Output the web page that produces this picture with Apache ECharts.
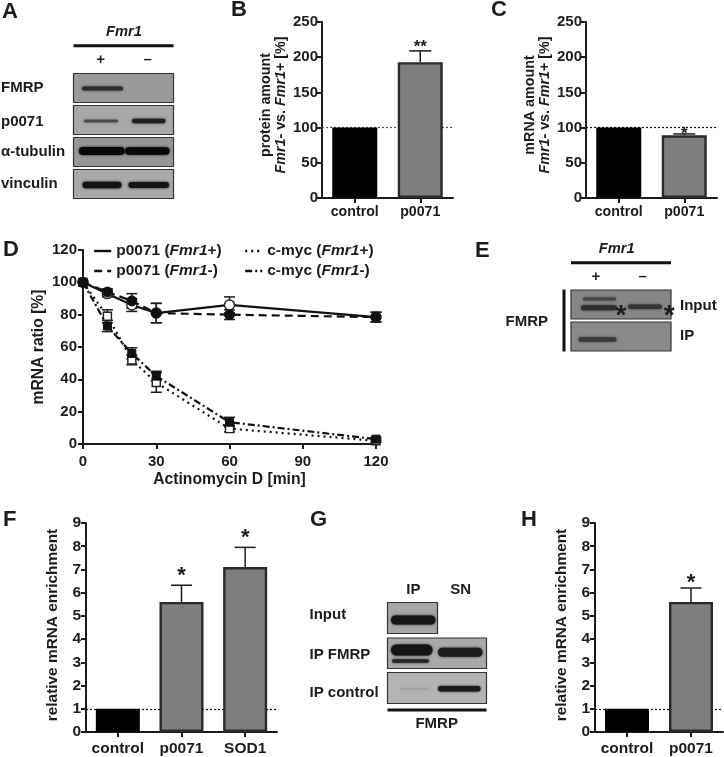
<!DOCTYPE html>
<html><head><meta charset="utf-8">
<style>html,body{margin:0;padding:0;background:#fff}#c{width:724px;height:757px}</style>
<script src="https://cdn.jsdelivr.net/npm/echarts@6/dist/echarts.min.js"></script>
</head><body><div id="c"></div>
<script>
// ---- data ----
const catsBC = ['control', 'p0071'];
const catsF = ['control', 'p0071', 'SOD1'];
const catsH = ['control', 'p0071'];
const proteinVals = [100, 193];
const proteinErr = [0, 16];
const proteinStars = ['', '**'];
const mrnaVals = [100, 89];
const mrnaErr = [0, 2];
const mrnaStars = ['', '*'];
const enrichFVals = [1, 5.6, 7.1];
const enrichFErr = [0, 0.72, 0.85];
const enrichFStars = ['', '*', '*'];
const enrichHVals = [1, 5.6];
const enrichHErr = [0, 0.6];
const enrichHStars = ['', '*'];
const timeMin = [0, 10, 20, 30, 60, 120];
const p0071Plus = [100, 93, 86, 81, 86, 78.5];
const p0071PlusErr = [0, 2, 4, 6, 5, 3];
const p0071Minus = [100, 94, 88.5, 81, 80, 78.5];
const p0071MinusErr = [0, 2, 4.5, 6, 3, 3];
const cmycPlus = [100, 79, 52, 38, 9.5, 2];
const cmycPlusErr = [0, 4, 3, 6, 2, 1];
const cmycMinus = [100, 73, 56, 42, 13.5, 3];
const cmycMinusErr = [0, 3.5, 3.5, 3, 3, 1];
const nameP = 'p0071 (Fmr1+)', nameQ = 'p0071 (Fmr1-)', nameR = 'c-myc (Fmr1+)', nameS = 'c-myc (Fmr1-)';

// ---- style helpers ----
const FF = '"Liberation Sans", Arial, sans-serif';
const INK = '#1c1c1c';
const pairs = (a, b) => a.map((v, i) => [i, v, b[i]]);
const timed = (a, b) => a.map((v, i) => [timeMin[i], v, b[i]]);

function axisBase(extra) {
  return Object.assign({
    axisLine: { show: true, onZero: false, lineStyle: { color: INK, width: 2 } },
    axisTick: { show: true, length: 5, lineStyle: { color: INK, width: 2 } },
    splitLine: { show: false }
  }, extra);
}
function catAxis(grid, cats, size, margin) {
  return axisBase({ type: 'category', gridIndex: grid, data: cats,
    axisTick: { show: true, alignWithLabel: true, length: 5, lineStyle: { color: INK, width: 2 } },
    axisLabel: Object.assign(labelStyle(size, margin), { interval: 0, hideOverlap: false }) });
}
function labelStyle(size, margin) {
  return { fontFamily: FF, fontWeight: 'bold', fontSize: size, color: INK, margin: margin };
}
function nameRich(size, weight, shift) {
  return {
    fontFamily: FF, color: INK, fontSize: size, fontWeight: weight, lineHeight: size + 1,
    padding: [0, 0, 0, shift],
    rich: {
      n: { fontFamily: FF, fontSize: size, fontWeight: weight, color: INK, lineHeight: size + 1 },
      i: { fontFamily: FF, fontSize: size, fontWeight: weight, fontStyle: 'italic', color: INK, lineHeight: size + 1 }
    }
  };
}

function errorSeries(grid, data, capHalf, both, stars, starSize, starGap) {
  return {
    type: 'custom', xAxisIndex: grid, yAxisIndex: grid, z: both ? 3 : 1, silent: true,
    encode: { x: 0, y: 1 }, data: data, clip: false,
    renderItem(params, api) {
      const x = api.value(0), v = api.value(1), e = api.value(2);
      const children = [];
      if (e > 0) {
        const base = api.coord([x, both ? v - e : v]);
        const top = api.coord([x, v + e]);
        const st = { stroke: INK, lineWidth: 1.5, fill: null };
        children.push({ type: 'line', shape: { x1: base[0], y1: base[1], x2: top[0], y2: top[1] }, style: st });
        children.push({ type: 'line', shape: { x1: top[0] - capHalf, y1: top[1], x2: top[0] + capHalf, y2: top[1] }, style: st });
        if (both) children.push({ type: 'line', shape: { x1: base[0] - capHalf, y1: base[1], x2: base[0] + capHalf, y2: base[1] }, style: st });
      }
      const star = stars && stars[params.dataIndex];
      if (star) {
        const p = api.coord([x, v + e]);
        children.push({ type: 'text', style: { text: star, x: p[0], y: p[1] - starGap, align: 'center', verticalAlign: 'middle', font: 'bold ' + starSize + 'px ' + FF, fill: INK } });
      }
      return { type: 'group', children: children };
    }
  };
}
function barSeries(grid, vals, refVal, refColor, width) {
  return {
    type: 'bar', xAxisIndex: grid, yAxisIndex: grid, barWidth: width, z: 2, silent: true,
    data: vals.map((v, i) => ({
      value: v,
      itemStyle: i === 0 ? { color: '#000', borderColor: '#000', borderWidth: 2 }
                         : { color: '#7e7e7e', borderColor: '#2a2a2a', borderWidth: 2.4 }
    })),
    markLine: {
      silent: true, symbol: 'none', z: 1, animation: false, label: { show: false },
      lineStyle: { type: [2, 2], width: 1.2, color: refColor },
      data: [{ yAxis: refVal }]
    }
  };
}
function lineSeries(name, vals, dash, open, square) {
  return {
    name: name, type: 'line', xAxisIndex: 2, yAxisIndex: 2, silent: true, z: open ? 4 : 5,
    data: timeMin.map((t, i) => [t, vals[i]]),
    symbol: square ? 'rect' : 'circle', symbolSize: square ? 8 : 10,
    lineStyle: { color: '#111', width: 2.2, type: dash },
    itemStyle: open ? { color: '#fff', borderColor: '#222', borderWidth: 1.4 } : { color: '#111', borderColor: '#111', borderWidth: 1 }
  };
}

// ---- blot drawing (raster panels of the figure) ----
function txt(x, y, s, size, opt) {
  return { type: 'text', silent: true, style: Object.assign({
    x: x, y: y, text: s, fill: INK, font: 'bold ' + size + 'px ' + FF, align: 'left', verticalAlign: 'middle'
  }, opt || {}) };
}
function rect(x, y, w, h, fill) {
  return { type: 'rect', silent: true, shape: { x: x, y: y, width: w, height: h }, style: { fill: fill } };
}
function panel(x, y, w, h, fill) {
  return { type: 'rect', silent: true, shape: { x: x, y: y, width: w, height: h },
    style: { fill: fill, stroke: '#333', lineWidth: 1.2 } };
}
function band(x1, x2, yc, h, color, blur) {
  return { type: 'rect', silent: true, shape: { x: x1, y: yc - h / 2, width: x2 - x1, height: h, r: h / 2 },
    style: { fill: color, shadowBlur: blur === undefined ? 2.5 : blur, shadowColor: color } };
}

const gfx = [
  // panel letters
  txt(2, 12, 'A', 22), txt(231, 10, 'B', 22), txt(491, 10, 'C', 22), txt(3, 250, 'D', 22),
  txt(475, 251, 'E', 22), txt(3, 520, 'F', 22), txt(310, 520, 'G', 22), txt(521, 520, 'H', 22),

  // A
  txt(124, 32, 'Fmr1', 14.7, { align: 'center', font: 'italic bold 14.7px ' + FF }),
  rect(73.5, 44.2, 100, 3, '#111'),
  txt(100.7, 60, '+', 15, { align: 'center' }), txt(147.7, 60, '–', 15, { align: 'center' }),
  txt(1, 88, 'FMRP', 15), txt(1, 122, 'p0071', 15), txt(1, 152, 'α-tubulin', 15), txt(1, 184, 'vinculin', 15),
  panel(73.5, 73.5, 100, 29, '#9a9a9a'), panel(73.5, 105.5, 100, 29, '#a8a8a8'),
  panel(73.5, 137.5, 100, 29, '#979797'), panel(73.5, 169.5, 100, 29, '#a9a9a9'),
  band(82, 123, 88.5, 4, '#2c2c2c'),
  band(84, 118, 121, 2.5, '#484848'), band(132, 165.5, 121, 4.5, '#202020'),
  band(79, 124.5, 151, 8, '#080808'), band(125, 169.5, 151, 7.5, '#080808'),
  band(82.5, 121.5, 185, 6.5, '#141414'), band(128.5, 169, 185, 6, '#141414'),

  // E
  txt(616.7, 249, 'Fmr1', 14.7, { align: 'center', font: 'italic bold 14.7px ' + FF }),
  rect(571, 261.2, 100, 3, '#111'),
  txt(596, 277, '+', 15, { align: 'center' }), txt(642.7, 277, '–', 15, { align: 'center' }),
  rect(562.5, 289.5, 3, 62, '#111'),
  txt(505.5, 322, 'FMRP', 15), txt(680, 306, 'Input', 15), txt(680, 336, 'IP', 15),
  panel(571, 290, 100, 29, '#868686'), panel(571, 322, 100, 29, '#8a8a8a'),
  band(583, 616, 299, 3, '#444'), band(581, 617, 307.8, 5, '#2e2e2e'), band(628, 662, 306.8, 4.5, '#343434'),
  band(578.5, 616.5, 339.5, 4.5, '#3a3a3a'),
  txt(621, 316, '*', 28, { align: 'center' }), txt(669.3, 316, '*', 28, { align: 'center' }),

  // G
  txt(413.3, 589.5, 'IP', 15, { align: 'center' }), txt(460.7, 589.5, 'SN', 15, { align: 'center' }),
  txt(309.5, 615, 'Input', 15), txt(309.5, 654.5, 'IP FMRP', 15), txt(309.5, 692.5, 'IP control', 15),
  panel(387.5, 602.5, 50, 31, '#a6a6a6'), panel(387.5, 638, 99, 30.5, '#a9a9a9'), panel(387.5, 672.5, 99, 31, '#b4b4b4'),
  band(391, 435.5, 620, 9, '#161616'),
  band(391, 432.5, 650, 11, '#141414'), band(392, 429, 661, 3.5, '#262626'), band(438, 482.5, 652.3, 9, '#1c1c1c'),
  band(400, 428, 689, 2, '#a2a2a2', 4), band(438, 480.5, 688.8, 5.5, '#1c1c1c'),
  rect(387.5, 708.5, 99, 3, '#111'),
  txt(436.7, 724, 'FMRP', 15, { align: 'center' })
];

const legendRich = { i: { fontFamily: FF, fontWeight: 'bold', fontStyle: 'italic', fontSize: 15.5, color: INK, lineHeight: 20 } };
function legendOf(left, names) {
  return {
    orient: 'vertical', left: left, top: 241, padding: 0, itemGap: 0, itemWidth: 17, itemHeight: 20,
    itemStyle: { opacity: 0 }, lineStyle: { width: 2.4 }, inactiveColor: INK, selectedMode: false,
    textStyle: { fontFamily: FF, fontWeight: 'bold', fontSize: 15.5, color: INK, lineHeight: 20, rich: legendRich },
    formatter: n => n.replace('Fmr1', '{i|Fmr1}'),
    data: names
  };
}

const option = {
  animation: false,
  backgroundColor: '#fff',
  textStyle: { fontFamily: FF },
  grid: [
    { left: 322, width: 131, top: 22, height: 176 },
    { left: 586, width: 131, top: 22, height: 176 },
    { left: 83, width: 293, top: 250, height: 194 },
    { left: 86, width: 191, top: 523, height: 210 },
    { left: 595, width: 128, top: 523, height: 210 }
  ],
  legend: [legendOf(93, [nameP, nameQ]), legendOf(244, [nameR, nameS])],
  xAxis: [
    catAxis(0, catsBC, 14.2, 7),
    catAxis(1, catsBC, 14.2, 7),
    axisBase({ type: 'value', gridIndex: 2, min: 0, max: 120, interval: 30, axisLabel: labelStyle(15, 10),
      name: 'Actinomycin D [min]', nameLocation: 'middle', nameGap: 28, nameTextStyle: { fontFamily: FF, fontWeight: 'bold', fontSize: 15.7, color: INK } }),
    catAxis(3, catsF, 15.5, 9),
    catAxis(4, catsH, 15.5, 9)
  ],
  yAxis: [
    axisBase({ type: 'value', gridIndex: 0, min: 0, max: 250, interval: 50, axisLabel: labelStyle(15, 4),
      name: '{n|protein amount}\n{i|Fmr1}{n|- vs. }{i|Fmr1}{n|+ [%]}', nameLocation: 'middle', nameGap: 31, nameRotate: 90, nameTextStyle: nameRich(14.3, 'bold', 10) }),
    axisBase({ type: 'value', gridIndex: 1, min: 0, max: 250, interval: 50, axisLabel: labelStyle(15, 4),
      name: '{n|mRNA amount}\n{i|Fmr1}{n|- vs. }{i|Fmr1}{n|+ [%]}', nameLocation: 'middle', nameGap: 31, nameRotate: 90, nameTextStyle: nameRich(14.3, 'bold', 10) }),
    axisBase({ type: 'value', gridIndex: 2, min: 0, max: 120, interval: 20, axisLabel: labelStyle(15, 6),
      name: 'mRNA ratio [%]', nameLocation: 'middle', nameGap: 36, nameRotate: 90, nameTextStyle: { fontFamily: FF, fontWeight: 'bold', fontSize: 15.7, color: INK } }),
    axisBase({ type: 'value', gridIndex: 3, min: 0, max: 9, interval: 1, axisLabel: labelStyle(15.5, 5),
      name: 'relative mRNA enrichment', nameLocation: 'middle', nameGap: 26, nameRotate: 90, nameTextStyle: { fontFamily: FF, fontWeight: 'bold', fontSize: 15.4, color: INK, padding: [0, 0, 0, 5] } }),
    axisBase({ type: 'value', gridIndex: 4, min: 0, max: 9, interval: 1, axisLabel: labelStyle(15.5, 5),
      name: 'relative mRNA enrichment', nameLocation: 'middle', nameGap: 26, nameRotate: 90, nameTextStyle: { fontFamily: FF, fontWeight: 'bold', fontSize: 15.4, color: INK, padding: [0, 0, 0, 5] } })
  ],
  series: [
    barSeries(0, proteinVals, 100, '#555', 45),
    errorSeries(0, pairs(proteinVals, proteinErr), 11, false, proteinStars, 17, 4),
    barSeries(1, mrnaVals, 100, '#111', 45),
    errorSeries(1, pairs(mrnaVals, mrnaErr), 11, false, mrnaStars, 17, 0),
    barSeries(3, enrichFVals, 1, '#111', 44),
    errorSeries(3, pairs(enrichFVals, enrichFErr), 10.5, false, enrichFStars, 22, 9),
    barSeries(4, enrichHVals, 1, '#111', 44),
    errorSeries(4, pairs(enrichHVals, enrichHErr), 10.5, false, enrichHStars, 22, 5),
    lineSeries(nameR, cmycPlus, [2, 4], true, true),
    lineSeries(nameS, cmycMinus, [7, 3, 2, 3], false, true),
    lineSeries(nameP, p0071Plus, 'solid', true, false),
    lineSeries(nameQ, p0071Minus, [8, 5], false, false),
    errorSeries(2, timed(cmycPlus, cmycPlusErr), 5.5, true),
    errorSeries(2, timed(cmycMinus, cmycMinusErr), 5.5, true),
    errorSeries(2, timed(p0071Plus, p0071PlusErr), 5.5, true),
    errorSeries(2, timed(p0071Minus, p0071MinusErr), 5.5, true)
  ],
  graphic: { elements: gfx }
};
echarts.init(document.getElementById('c'), null, { renderer: 'canvas' }).setOption(option);
</script></body></html>
